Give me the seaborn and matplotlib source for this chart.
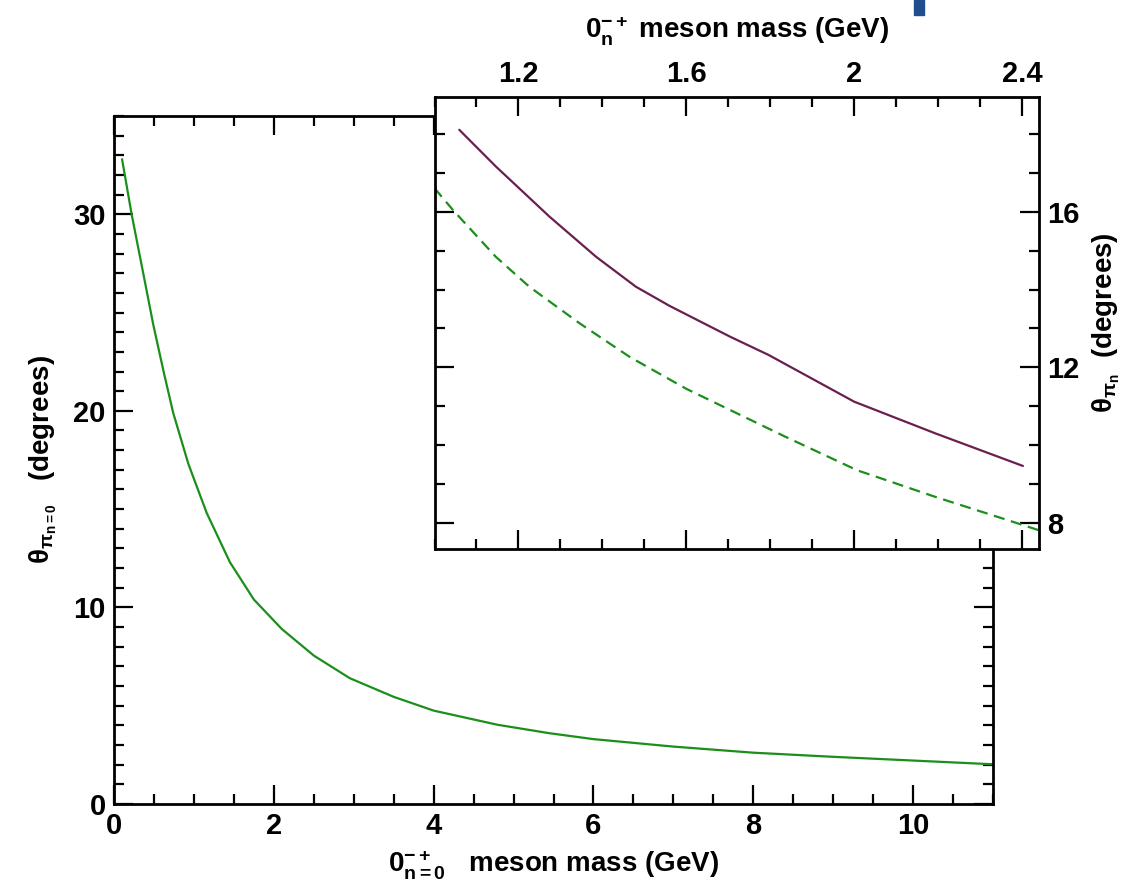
import matplotlib
matplotlib.use('Agg')
import matplotlib.pyplot as plt
from matplotlib.patches import Rectangle
from matplotlib.ticker import MultipleLocator
import pandas as pd
import seaborn as sns

# Основная кривая: n = 0
mass_main = [0.1, 0.22, 0.37, 0.49, 0.62, 0.74, 0.93, 1.16, 1.45, 1.75, 2.1, 2.5,
             2.95, 3.5, 4.0, 4.8, 5.45, 6.0, 7.0, 8.0, 9.0, 10.0, 11.0]
theta_main = [32.8, 30.0, 26.9, 24.4, 22.0, 19.9, 17.3, 14.8, 12.3, 10.4, 8.9, 7.55,
              6.4, 5.45, 4.75, 4.03, 3.6, 3.3, 2.92, 2.61, 2.4, 2.21, 2.02]

# Вставка: сплошная (фиолетовая) и штриховая (зелёная) кривые
mass_solid = [1.059, 1.146, 1.274, 1.385, 1.48, 1.56, 1.704, 1.796, 2.0, 2.195, 2.402]
theta_solid = [18.1, 17.16, 15.87, 14.84, 14.07, 13.58, 12.79, 12.32, 11.12, 10.3, 9.47]
mass_dashed = [1.0, 1.044, 1.146, 1.226, 1.346, 1.465, 1.6, 1.836, 2.007, 2.195, 2.354, 2.44]
theta_dashed = [16.6, 16.04, 14.84, 14.07, 13.13, 12.27, 11.45, 10.22, 9.36, 8.67, 8.12, 7.82]

main_xticks = [0, 2, 4, 6, 8, 10]
main_yticks = [0, 10, 20, 30]
inset_xticks = [1.2, 1.6, 2.0, 2.4]
inset_xlabels = ['1.2', '1.6', '2', '2.4']
inset_yticks = [8, 12, 16]

GREEN = '#1b8f1b'
PURPLE = '#6a1f4e'

sns.set_style('ticks')
plt.rcParams['font.family'] = ['Liberation Sans', 'DejaVu Sans']
plt.rcParams['font.weight'] = 'bold'
plt.rcParams['axes.labelweight'] = 'bold'
plt.rcParams['text.color'] = 'black'
plt.rcParams['axes.labelcolor'] = 'black'
plt.rcParams['xtick.color'] = 'black'
plt.rcParams['ytick.color'] = 'black'
plt.rcParams['mathtext.fontset'] = 'custom'
plt.rcParams['mathtext.rm'] = 'Liberation Sans:bold'
plt.rcParams['mathtext.it'] = 'Liberation Sans:bold'
plt.rcParams['mathtext.bf'] = 'Liberation Sans:bold'
plt.rcParams['mathtext.default'] = 'regular'

main_df = pd.DataFrame({'mass': mass_main, 'theta': theta_main})
solid_df = pd.DataFrame({'mass': mass_solid, 'theta': theta_solid})
dashed_df = pd.DataFrame({'mass': mass_dashed, 'theta': theta_dashed})

fig = plt.figure(figsize=(11.36, 8.88), dpi=100)
ax = fig.add_axes([0.1004, 0.0946, 0.7737, 0.7748])
ins = fig.add_axes([0.3825, 0.3814, 0.532, 0.5097])
ins.set_facecolor('white')

sns.lineplot(data=main_df, x='mass', y='theta', ax=ax, color=GREEN, lw=1.6,
             sort=False, estimator=None)
ax.set_xlim(0, 11)
ax.set_ylim(0, 35)
ax.set_xticks(main_xticks)
ax.set_yticks(main_yticks)
ax.xaxis.set_minor_locator(MultipleLocator(0.5))
ax.yaxis.set_minor_locator(MultipleLocator(1))
ax.tick_params(which='both', direction='in', top=True, right=True, width=1.6,
               labelsize=21, pad=6)
ax.tick_params(which='major', length=14)
ax.tick_params(which='minor', length=7)
ax.set_xlabel(r'$0^{-+}_{n=0}$   meson mass (GeV)', fontsize=20, labelpad=6)
ax.set_ylabel(r'$\theta_{\pi_{n=0}}$   (degrees)', fontsize=20, labelpad=10)

sns.lineplot(data=solid_df, x='mass', y='theta', ax=ins, color=PURPLE, lw=1.6,
             sort=False, estimator=None)
sns.lineplot(data=dashed_df, x='mass', y='theta', ax=ins, color=GREEN, lw=1.6,
             sort=False, estimator=None, linestyle=(0, (5, 3)))
ins.set_xlim(1.0, 2.44)
ins.set_ylim(7.33, 18.95)
ins.set_xticks(inset_xticks, inset_xlabels)
ins.set_yticks(inset_yticks)
ins.xaxis.set_minor_locator(MultipleLocator(0.1))
ins.yaxis.set_minor_locator(MultipleLocator(1))
ins.xaxis.tick_top()
ins.xaxis.set_label_position('top')
ins.yaxis.tick_right()
ins.yaxis.set_label_position('right')
ins.tick_params(which='both', direction='in', top=True, bottom=True, left=True, right=True,
                width=1.6, labelsize=21, pad=6)
ins.tick_params(which='major', length=14)
ins.tick_params(which='minor', length=7)
ins.set_xlabel(r'$0^{-+}_{n}$ meson mass (GeV)', fontsize=20, labelpad=16)
ins.set_ylabel(r'$\theta_{\pi_n}$  (degrees)', fontsize=20, labelpad=8)

for a in (ax, ins):
    for s in a.spines.values():
        s.set_linewidth(2.0)
        s.set_color('black')

# синий маркер слайда в правом верхнем углу
fig.patches.append(Rectangle((914 / 1136, 1 - 15 / 888), 10 / 1136, 15 / 888,
                             transform=fig.transFigure, color='#1f4e8c', zorder=5))

plt.savefig('out.png', dpi=100)
plt.close()
